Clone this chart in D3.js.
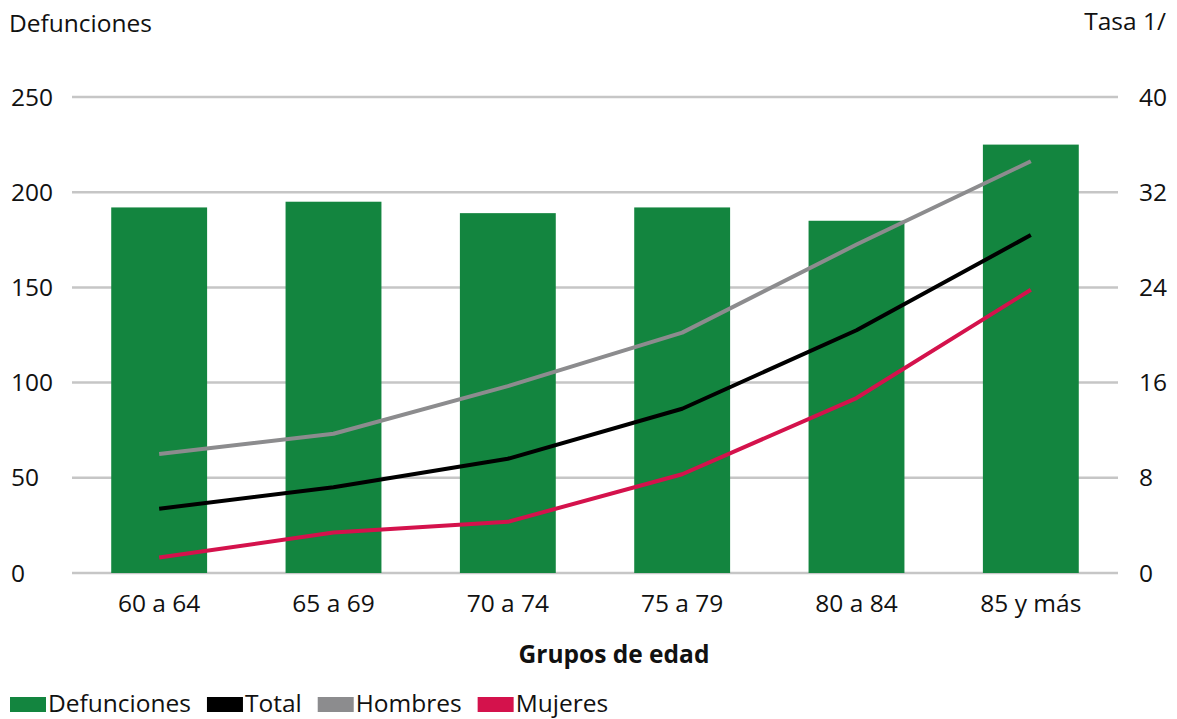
<!DOCTYPE html>
<html><head><meta charset="utf-8">
<script src="https://cdn.jsdelivr.net/npm/d3@7"></script>
<style>
html,body{margin:0;padding:0;background:#fff;}
svg{display:block;font-family:"Open Sans",sans-serif;}
</style></head>
<body><svg id="c" width="1177" height="719"></svg>
<script>
const categories = ["60 a 64","65 a 69","70 a 74","75 a 79","80 a 84","85 y más"];
const defunciones = [192, 195, 189, 192, 185, 225];
const total = [5.4, 7.2, 9.6, 13.8, 20.4, 28.4];
const hombres = [10.0, 11.7, 15.7, 20.2, 27.6, 34.6];
const mujeres = [1.3, 3.4, 4.3, 8.3, 14.7, 23.8];
const leftTicks = [0, 50, 100, 150, 200, 250];
const rightTicks = [0, 8, 16, 24, 32, 40];

const svg = d3.select("#c");
const L = 72, R = 1118, T = 97, B = 573;
const x = d3.scaleBand().domain(categories).range([L, R]).paddingInner(0.45).paddingOuter(0.225);
const yL = d3.scaleLinear().domain([0, 250]).range([B, T]);
const yR = d3.scaleLinear().domain([0, 40]).range([B, T]);
const fs = 24.5;
const ink = "#111";

// gridlines
svg.append("g").selectAll("line").data(leftTicks).join("line")
  .attr("x1", L).attr("x2", R).attr("y1", d => yL(d)).attr("y2", d => yL(d))
  .attr("stroke", "#c6c6c6").attr("stroke-width", 2.5);

// left axis labels
svg.append("g").selectAll("text").data(leftTicks).join("text")
  .attr("x", 11).attr("y", d => yL(d)).attr("dy", "0.35em")
  .attr("font-size", fs).attr("fill", ink).text(d => d);
// right axis labels
svg.append("g").selectAll("text").data(rightTicks).join("text")
  .attr("x", 1139).attr("y", d => yR(d)).attr("dy", "0.35em")
  .attr("font-size", fs).attr("fill", ink).text(d => d);

// bars
svg.append("g").selectAll("rect").data(defunciones).join("rect")
  .attr("x", (d, i) => x(categories[i])).attr("width", x.bandwidth())
  .attr("y", d => yL(d)).attr("height", d => B - yL(d))
  .attr("fill", "#13853f");

// lines
const cx = c => x(c) + x.bandwidth() / 2;
const line = d3.line().x((d, i) => cx(categories[i])).y(d => yR(d));
const series = [[hombres, "#8c8c8e"], [total, "#000000"], [mujeres, "#d4124c"]];
series.forEach(([vals, col]) => {
  svg.append("path").datum(vals).attr("d", line)
    .attr("fill", "none").attr("stroke", col).attr("stroke-width", 4)
    .attr("stroke-linejoin", "round");
});

// category labels
svg.append("g").selectAll("text").data(categories).join("text")
  .attr("x", d => cx(d)).attr("y", 612).attr("text-anchor", "middle")
  .attr("font-size", fs).attr("fill", ink).text(d => d);

// titles
svg.append("text").attr("x", 9).attr("y", 32).attr("font-size", fs).attr("fill", ink).text("Defunciones");
svg.append("text").attr("x", 1166).attr("y", 30).attr("text-anchor", "end").attr("font-size", fs).attr("fill", ink).text("Tasa 1/");
svg.append("text").attr("x", 614).attr("y", 663).attr("text-anchor", "middle")
  .attr("font-size", fs).attr("font-weight", "bold").attr("fill", ink).text("Grupos de edad");

// legend
const legendItems = [["Defunciones", "#13853f"], ["Total", "#000000"], ["Hombres", "#8c8c8e"], ["Mujeres", "#d4124c"]];
let lx = 10;
const lg = svg.append("g");
legendItems.forEach(([name, col]) => {
  lg.append("rect").attr("x", lx).attr("y", 697).attr("width", 36).attr("height", 15).attr("fill", col);
  const t = lg.append("text").attr("x", lx + 38).attr("y", 712).attr("font-size", 24.5).attr("fill", ink).text(name);
  lx += 38 + t.node().getComputedTextLength() + 16;
});
</script></body></html>
